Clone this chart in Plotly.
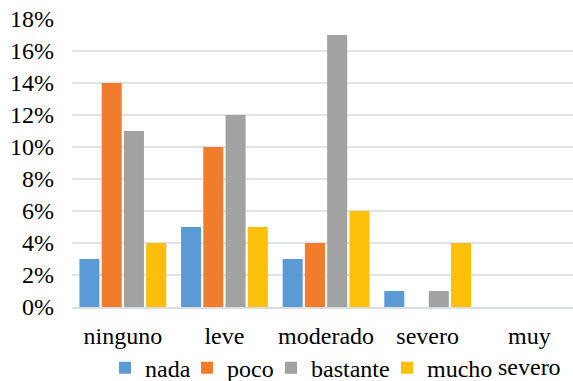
import plotly.graph_objects as go

categorias = ["ninguno", "leve", "moderado", "severo", "muy<br>severo"]
series = ["nada", "poco", "bastante", "mucho"]
nada = [0.03, 0.05, 0.03, 0.01, 0.0]
poco = [0.14, 0.10, 0.04, 0.0, 0.0]
bastante = [0.11, 0.12, 0.17, 0.01, 0.0]
mucho = [0.04, 0.05, 0.06, 0.04, 0.0]
y_ticks = [0, 0.02, 0.04, 0.06, 0.08, 0.10, 0.12, 0.14, 0.16, 0.18]

valores = [nada, poco, bastante, mucho]
colores = ["#5b9bd5", "#f07c2c", "#a2a2a2", "#fcbf0a"]
# one single-entry legend per series, placed side by side along the bottom
legend_x = [0.0659, 0.2295, 0.3972, 0.6287]

FONT = "Liberation Serif, Times New Roman, serif"

fig = go.Figure()
for i, (nombre, vals, col) in enumerate(zip(series, valores, colores)):
    lg = "legend" if i == 0 else f"legend{i + 1}"
    fig.add_trace(go.Bar(
        x=categorias, y=vals, name=nombre,
        marker=dict(color=col, line=dict(width=0)),
        legend=lg,
    ))

layout_legends = {}
for i, lx in enumerate(legend_x):
    key = "legend" if i == 0 else f"legend{i + 1}"
    layout_legends[key] = dict(
        x=lx, y=-0.212, xref="paper", yref="paper",
        xanchor="left", yanchor="middle",
        orientation="h", font=dict(family=FONT, size=24, color="#000"),
        bgcolor="rgba(0,0,0,0)", itemwidth=30,
    )

# fixed margins: the legends may sit in the bottom strip without resizing the plot
fig.update_layout(
    width=573, height=381,
    margin=dict(l=72, r=0, t=19, b=74, autoexpand=False),
    paper_bgcolor="white", plot_bgcolor="white",
    barmode="group", bargap=0.124, bargroupgap=0.1,
    showlegend=True,
    font=dict(family=FONT, size=24, color="#000"),
    **layout_legends,
)
fig.update_xaxes(
    range=[-0.5, 4.43], showgrid=False, automargin=False,
    showline=True, linecolor="#dadde3", linewidth=1.5,
    ticks="", ticklabelstandoff=6,
    tickfont=dict(family=FONT, size=24, color="#000"),
)
fig.update_yaxes(
    range=[0, 0.18], tickvals=y_ticks, tickformat=".0%", automargin=False,
    showgrid=True, gridcolor="#dfe2e8", gridwidth=1.5,
    zeroline=False, showline=False, ticks="",
    ticklabelstandoff=17,
    tickfont=dict(family=FONT, size=24, color="#000"),
)

fig.write_html("out.html")
